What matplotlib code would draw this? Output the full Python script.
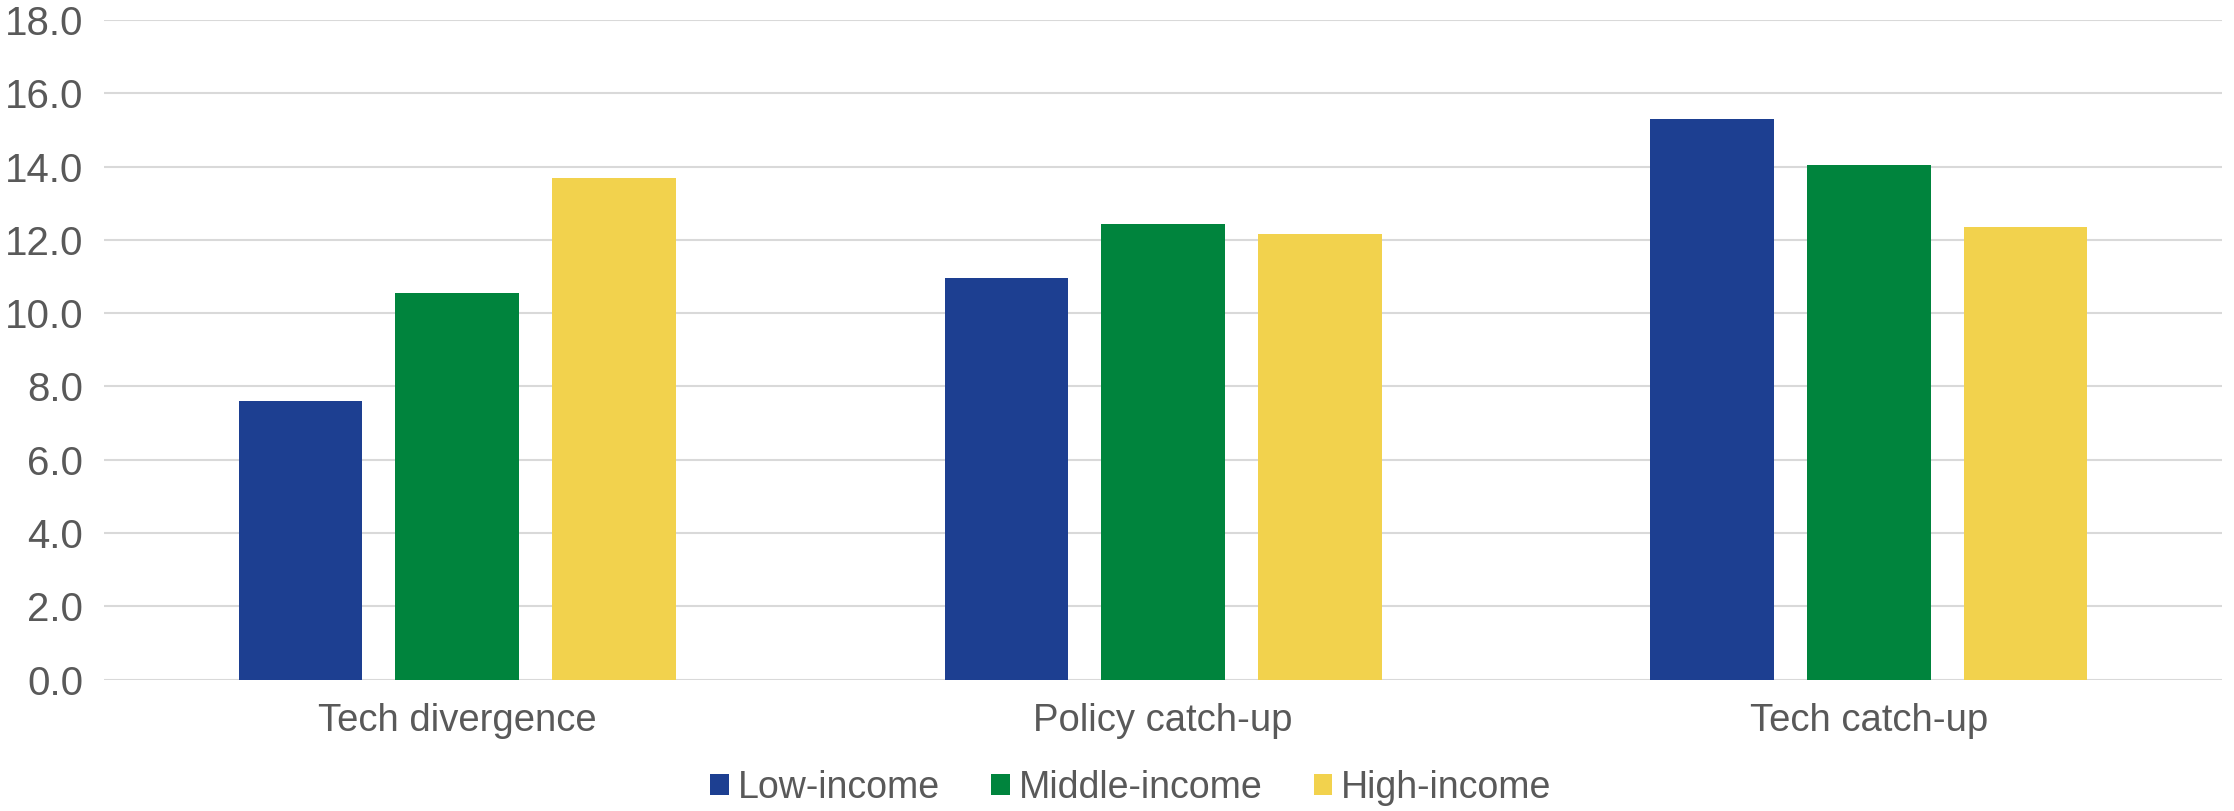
import matplotlib
matplotlib.use("Agg")
import matplotlib.pyplot as plt
import numpy as np
from matplotlib.patches import Patch

categories = ["Tech divergence", "Policy catch-up", "Tech catch-up"]
series_names = ["Low-income", "Middle-income", "High-income"]
low_income = [7.6, 10.95, 15.3]
middle_income = [10.55, 12.43, 14.05]
high_income = [13.7, 12.15, 12.35]
yticks = [0, 2, 4, 6, 8, 10, 12, 14, 16, 18]

colors = ["#1D3F91", "#00843D", "#F2D24D"]
text_color = "#595959"

plt.rcParams["font.family"] = ["Liberation Sans", "DejaVu Sans"]

fig = plt.figure(figsize=(22.34, 8.11), dpi=100)
ax = fig.add_axes([0.0466, 0.162, 0.948, 0.8133])

x = np.arange(len(categories))
width = 0.175
offset = 0.222
for i, (vals, name) in enumerate(zip([low_income, middle_income, high_income], series_names)):
    ax.bar(x + (i - 1) * offset, vals, width, color=colors[i], label=name, zorder=3)

ax.set_xlim(-0.5, len(categories) - 0.5)
ax.set_ylim(0, 18)
ax.set_yticks(yticks)
ax.set_yticklabels([f"{v:.1f}" for v in yticks])
ax.set_xticks(x)
ax.set_xticklabels(categories)
ax.yaxis.grid(True, color="#D9D9D9", linewidth=1.5, zorder=0)
ax.set_axisbelow(True)
for s in ax.spines.values():
    s.set_visible(False)
ax.tick_params(axis="y", length=0, pad=15, labelsize=29, labelcolor=text_color)
ax.tick_params(axis="x", length=0, pad=17, labelsize=27.5, labelcolor=text_color)

handles = [Patch(facecolor=c, edgecolor="none") for c in colors]
fig.legend(handles, series_names, loc="center", bbox_to_anchor=(1131 / 2234, 1 - 788 / 811),
           ncol=3, frameon=False, fontsize=27, labelcolor=text_color,
           handlelength=0.5, handleheight=0.5, handletextpad=0.24, columnspacing=1.36,
           borderpad=0, borderaxespad=0)

fig.savefig("out.png", dpi=100)
